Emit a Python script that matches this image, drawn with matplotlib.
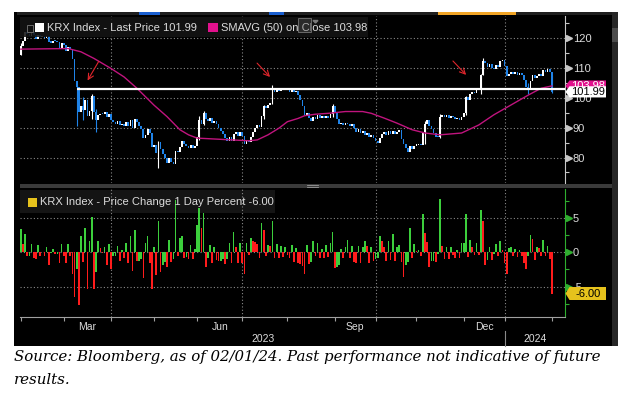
import numpy as np
import matplotlib
matplotlib.use("Agg")
from matplotlib import pyplot as plt
from matplotlib.patches import Rectangle, Polygon
from matplotlib.lines import Line2D
from matplotlib.transforms import blended_transform_factory

W, H, DPI = 627, 393, 100
FONT = "Liberation Sans"
FG = "#dcdcdc"
GRID = "#8a8a8a"
UP = "#ffffff"
DOWN = "#1f83e8"
SMA_C = "#c0147e"
GREEN = "#3ccf3c"
RED = "#ff1c1c"
AXIS_GREEN = "#2fae2f"

# ---- data: KRX Index, daily sessions 2023-02-01 .. 2024-02-01 ----
prior_close = 114.5
close = [
    117.5, 118.9, 122.1, 121.4, 120.7, 122.1, 121.0, 119.8, 121.0, 120.4,  # Feb
    120.5, 119.9, 120.8, 118.6, 118.5, 119.1, 118.9, 118.7, 116.8, 118.2,
    117.6, 115.7, 117.1, 116.5, 112.9, 105.6, 103.6, 95.2, 97.4, 96.0, 99.4,  # Mar
    94.0, 95.6, 100.6, 95.3, 92.6, 94.1, 94.7, 94.6, 95.4, 93.6, 94.7,
    92.4, 91.8, 91.3, 92.1, 90.9, 91.3, 90.6, 91.8, 90.4, 92.5,  # Apr
    90.0, 93.0, 91.8, 90.6, 89.7, 86.4, 87.6, 89.6, 88.3, 83.6,
    84.2, 81.4, 85.1, 82.7, 81.1, 80.0, 78.3, 79.7, 78.6, 77.8,  # May
    82.2, 81.8, 83.5, 85.4, 84.6, 84.0, 83.2, 84.1, 83.3, 83.7,
    87.0, 92.6, 91.2, 95.0, 93.0, 92.2, 93.1, 91.6, 92.2, 91.2, 90.0,  # Jun
    88.9, 88.0, 86.5, 85.6, 86.8, 85.4, 87.9, 88.6, 87.3, 88.4,
    87.1, 84.4, 85.5, 85.2, 87.0, 88.5, 89.8, 90.9, 90.1, 94.0, 97.1,  # Jul
    96.5, 97.5, 98.4, 102.8, 102.0, 103.2, 102.4, 103.3, 102.6, 103.4,
    103.0, 102.1, 103.2, 101.8, 102.4, 100.9, 99.2, 97.2, 94.1, 95.0, 93.4,  # Aug
    92.1, 93.6, 93.0, 94.2, 93.4, 93.9, 93.1, 94.0, 93.3, 94.5, 97.2,
    95.0, 92.9, 91.1, 91.6, 90.8, 91.5, 91.2, 90.5, 91.3, 90.0,  # Sep
    88.6, 89.4, 88.1, 88.8, 87.5, 88.3, 87.0, 87.6, 86.5,
    85.6, 84.9, 86.4, 87.8, 88.5, 87.4, 88.9, 87.9, 89.0, 87.8,  # Oct
    88.4, 89.3, 86.2, 84.6, 83.1, 81.9, 83.7, 83.0, 84.0,
    84.2, 84.5, 84.1, 88.7, 91.2, 92.6, 90.6, 89.4, 88.2, 87.0, 86.8,  # Nov
    93.6, 94.4, 93.5, 94.2, 93.3, 94.0, 93.6, 92.8, 93.2, 92.4, 93.6,
    94.8, 100.1, 99.4, 101.2, 102.0, 101.6, 103.0, 102.6, 107.6, 112.4,  # Dec
    111.6, 110.4, 111.2, 110.0, 109.7, 111.0, 110.4, 112.3, 112.6,
    110.8, 107.3, 107.9, 108.7, 108.0, 108.6, 107.8, 108.2, 107.6, 106.0, 103.5,  # Jan
    103.0, 105.6, 107.7, 106.5, 107.4, 108.0, 107.3, 109.2, 108.6, 109.6, 108.5,
    101.99,  # Feb 1
]

# the longer intraday wicks that stand out: (session index, low, high)
wicks = [(0, 114.5, 118.4), (26, 90.4, 104.6), (29, 92.5, 100.2), (33, 93.0, 101.2),
         (35, 88.7, 96.4), (64, 76.5, 85.6), (83, 86.0, 94.0), (85, 90.8, 95.6),
         (113, 92.8, 97.6), (117, 97.8, 104.2), (145, 93.6, 98.0), (188, 84.5, 92.3),
         (195, 86.5, 94.6), (207, 94.2, 100.6), (214, 101.2, 108.0),
         (215, 107.8, 113.2), (236, 101.4, 104.8), (247, 101.6, 107.6)]

pct_change = [
    3.4, 1.2, 2.7, -0.6, -0.6, 1.2, -0.9, -1.0, 1.0, -0.5,  # Feb
    0.1, -0.5, 0.8, -1.8, -0.1, 0.5, -0.2, -0.2, -1.6, 1.2,
    -0.5, -1.6, 1.2, -0.5, -3.1, -6.5, -2.4, -7.7, 2.3, -1.4, 3.5,  # Mar
    -5.4, 1.7, 5.2, -5.3, -2.8, 1.6, 0.6, -0.1, 0.8, -1.9, 1.2,
    -2.4, -0.6, -0.5, 0.9, -1.3, 0.4, -0.8, 1.3, -1.5, 2.3,  # Apr
    -2.7, 3.3, -1.3, -1.3, -1.0, -3.7, 1.4, 2.3, -1.5, -5.3,
    0.7, -3.3, 4.5, -2.8, -1.9, -1.4, -2.1, 1.8, -1.4, -1.0,  # May
    7.6, -0.5, 2.1, 2.3, -0.9, -0.7, -1.0, 1.1, -1.0, 0.5,
    3.9, 6.4, 3.5, 5.7, -2.1, -0.9, 1.0, -1.6, 0.7, -1.1, -1.3,  # Jun
    -1.2, -1.0, -1.7, -1.0, 1.4, -1.6, 2.9, 0.8, -1.5, 1.3,
    -1.5, -3.1, 1.3, -0.4, 2.1, 1.7, 1.5, 1.2, -0.9, 4.3, 3.3,  # Jul
    -0.6, 1.0, 0.9, 4.5, -0.8, 1.2, -0.8, 0.9, -0.7, 0.8,
    -0.4, -0.9, 1.1, -1.4, 0.6, -1.5, -1.7, -2.0, -3.2, 1.0, -1.7,  # Aug
    -1.4, 1.6, -0.6, 1.3, -0.8, 0.5, -0.9, 1.0, -0.7, 1.3, 2.9,
    -2.3, -2.2, -1.9, 0.5, -0.9, 0.8, 1.8, -0.8, 0.9, -1.4,  # Sep
    -1.6, 0.9, -1.5, 0.8, 1.6, 0.9, -1.5, 0.7, -1.3,
    -1.0, -0.8, 2.3, 1.6, 0.8, -1.2, 1.7, -1.1, 2.6, -1.3,  # Oct
    0.7, 1.0, -1.4, -3.6, -1.8, -1.4, 3.5, -0.8, 1.2,
    0.2, 0.4, -0.5, 5.5, 2.8, 1.5, -2.2, -1.3, -1.3, -1.4, -0.2,  # Nov
    7.8, 0.9, -1.0, 0.7, -1.0, 0.8, -0.4, -0.9, 0.4, -0.9, 1.3,
    1.3, 5.6, -0.7, 1.8, 0.8, -0.4, 1.4, -0.4, 6.1, 4.5,  # Dec
    -1.9, -1.1, 0.7, -1.1, -0.3, 1.2, -0.5, 1.7, 0.3,
    -1.6, -3.2, 0.6, 0.7, -0.6, 0.5, -0.7, 0.4, -0.6, -1.5, -2.4,  # Jan
    -0.5, 2.5, 2.0, -1.1, 0.8, 0.6, -0.6, 1.8, -0.5, 0.9, -1.0,
    -6.0,  # Feb 1
]

# 50-day moving average, read at intervals (session index, value)
sma_idx = [0, 22, 28, 34, 42, 48, 54, 62, 68, 74, 78, 82, 90, 98, 106, 110, 115,
           120, 124, 129, 132, 137, 143, 151, 159, 163, 169, 175, 182, 188, 195,
           205, 213, 220, 228, 236, 242, 247]
sma_val = [116.3, 116.5, 115.4, 113.2, 109.8, 107.0, 103.2, 97.5, 93.7, 89.3, 87.6,
           86.5, 86.2, 85.9, 85.6, 85.9, 87.6, 89.8, 92.0, 93.1, 94.0, 94.5, 94.8,
           95.4, 95.4, 94.8, 93.2, 91.5, 89.3, 88.2, 87.6, 88.2, 90.9, 94.3, 97.6,
           100.9, 103.2, 103.98]

last_price = 101.99
last_sma = 103.98
last_pct = -6.00
support_level = 103.05
support_start = 26

# first session of each month, Feb 2023 .. Feb 2024
month_starts = [0, 20, 42, 62, 82, 103, 124, 146, 165, 184, 206, 225, 247]
quarter_starts = [42, 103, 165, 225]
month_names = {1: "Mar", 4: "Jun", 7: "Sep", 10: "Dec"}
years = [("2023", 0, 225), ("2024", 225, 253)]

# hand-drawn red arrows: (tail idx, tail value, tip idx, tip value)
arrows = [(36.9, 113.0, 30.4, 105.0), (109.0, 112.3, 116.8, 106.3),
          (200.1, 113.0, 208.0, 107.0)]

price_ticks = [80, 90, 100, 110, 120]
price_minor = [75, 85, 95, 105, 115, 125]
pct_ticks = [-5, 0, 5]
pct_minor = [-7.5, -2.5, 2.5, 7.5]


def fx(x):
    return x / W


def fy(y):
    return 1 - y / H


def box(x0, y0, x1, y1, **kw):
    fig.patches.append(Rectangle((fx(x0), fy(y1)), (x1 - x0) / W, (y1 - y0) / H,
                                 transform=fig.transFigure, **kw))


fig = plt.figure(figsize=(W / DPI, H / DPI), dpi=DPI, facecolor="white")
box(14, 12, 612, 346, facecolor="black", edgecolor="none", zorder=-3)
box(612, 12, 618, 346, facecolor="#272727", edgecolor="none", zorder=-3)
box(612, 28, 618, 42, facecolor="#4c4c4c", edgecolor="none", zorder=-2)

# event strip at the top
box(17, 12, 612, 15, facecolor="#1f1f1f", edgecolor="none", zorder=-2)
box(139, 12, 160, 14.5, facecolor="#1a5fd0", edgecolor="none", zorder=-1)
box(269, 12, 284, 14.5, facecolor="#1a5fd0", edgecolor="none", zorder=-1)
box(438, 12, 516, 14.5, facecolor="#f2a526", edgecolor="none", zorder=-1)

# lower legend sits behind the bars
box(20, 190, 275, 213, facecolor="#141414", edgecolor="none", zorder=-1)

ax_p = fig.add_axes([fx(20), fy(183), 545 / W, 167 / H])
ax_c = fig.add_axes([fx(20), fy(317), 545 / W, 128 / H])

x = np.arange(len(close))
close_a = np.array(close)
open_a = np.concatenate([[prior_close], close_a[:-1]])
pct_a = np.array(pct_change)

for ax in (ax_p, ax_c):
    ax.set_zorder(1)
    ax.set_facecolor("none")
    ax.set_xlim(-0.37, 253.1)
    for s in ("top", "left", "bottom"):
        ax.spines[s].set_visible(False)
    ax.set_xticks([])
    ax.yaxis.tick_right()
    for q in quarter_starts:
        ax.axvline(q, color=GRID, lw=0.8, ls=(0, (1, 2)), zorder=1)

ax_p.set_ylim(71.46, 127.4)
ax_c.set_ylim(-9.42, 9.21)

for v in price_ticks:
    ax_p.axhline(v, color=GRID, lw=0.8, ls=(0, (1, 2)), zorder=1)
for v in pct_ticks:
    ax_c.axhline(v, color=GRID, lw=0.8, ls=(0, (1, 2)), zorder=1)

# candles
up = close_a >= open_a
lo = np.minimum(open_a, close_a)
hgt = np.maximum(np.abs(close_a - open_a), 0.4)
body_col = np.where(up, UP, DOWN)
for i, wl, wh in wicks:
    ax_p.vlines(i, wl, wh, color=body_col[i], lw=0.8, zorder=3)
ax_p.bar(x, hgt, bottom=lo, width=0.8, color=body_col, linewidth=0, zorder=3)
ax_p.plot(sma_idx, sma_val, color=SMA_C, lw=1.0, zorder=4)
ax_p.plot([support_start, 253.1], [support_level] * 2, color="white", lw=1.6,
          zorder=5, solid_capstyle="butt")
for tx, tv, hx, hv in arrows:
    ax_p.annotate("", xy=(hx, hv), xytext=(tx, tv),
                  arrowprops=dict(arrowstyle="->", color="#e0262c", lw=0.8,
                                  mutation_scale=10), zorder=6)

# daily change histogram, coloured vs the previous bar
prev = np.concatenate([[-np.inf], pct_a[:-1]])
ax_c.bar(x, pct_a, width=0.78, color=np.where(pct_a >= prev, GREEN, RED),
         linewidth=0, zorder=3)

# right axes
ax_p.spines["right"].set_color("#c8c8c8")
ax_c.spines["right"].set_color(AXIS_GREEN)
for ax, ticks, minor, col in ((ax_p, price_ticks, price_minor, "#c8c8c8"),
                              (ax_c, pct_ticks, pct_minor, AXIS_GREEN)):
    ax.set_yticks(ticks)
    ax.set_yticklabels([str(t) for t in ticks])
    ax.set_yticks(minor, minor=True)
    ax.tick_params(axis="y", which="major", length=0, pad=5.5, labelsize=8,
                   labelcolor=FG)
    for lab in ax.get_yticklabels():
        lab.set_fontfamily(FONT)
    ax.tick_params(axis="y", which="minor", length=3, width=0.8, color=col)
    tr = blended_transform_factory(ax.transAxes, ax.transData)
    ax.plot([1 + 4 / 545] * len(ticks), ticks, ls="none", marker=">",
            markersize=4, color=col, transform=tr, clip_on=False, zorder=5)

# bottom time axis
ax_c.spines["bottom"].set_visible(True)
ax_c.spines["bottom"].set_color("#a0a0a0")
ax_c.set_xticks(month_starts)
ax_c.set_xticklabels([])
ax_c.tick_params(axis="x", length=3, width=0.8, color="#a0a0a0")
trx = blended_transform_factory(ax_c.transData, fig.transFigure)
for i, name in month_names.items():
    mid = (month_starts[i] + month_starts[i + 1]) / 2
    fig.text(mid, fy(327), name, transform=trx, ha="center", va="center",
             color=FG, fontsize=7.5, family=FONT)
for name, a, b in years:
    fig.text((a + b) / 2, fy(339.5), name, transform=trx, ha="center",
             va="center", color=FG, fontsize=7.5, family=FONT)
fig.lines.append(Line2D([years[1][1]] * 2, [fy(331), fy(346)], transform=trx,
                        color="#8a8a8a", lw=0.8))

# separator between panels
box(20, 184, 612, 188, facecolor="#3a3a3a", edgecolor="none", zorder=2)
fig.lines.append(Line2D([fx(307), fx(318)], [fy(185.3)] * 2,
                        transform=fig.transFigure, color="#9a9a9a", lw=0.6, zorder=3))
fig.lines.append(Line2D([fx(307), fx(318)], [fy(186.8)] * 2,
                        transform=fig.transFigure, color="#9a9a9a", lw=0.6, zorder=3))

# legends
box(20, 17, 368, 37, facecolor="#141414", edgecolor="none", alpha=0.88, zorder=7)
box(26.5, 24.5, 32.5, 31.5, facecolor="none", edgecolor="#6a6a6a", lw=0.7, zorder=8)
box(35, 23, 44, 32, facecolor="white", edgecolor="none", zorder=8)
fig.text(fx(47), fy(27.8), f"KRX Index - Last Price {last_price:.2f}", color=FG,
         fontsize=8, family=FONT, va="center", zorder=9)
box(208, 23, 218, 32, facecolor="#e2118d", edgecolor="none", zorder=8)
fig.text(fx(221), fy(27.8), f"SMAVG (50) on Close {last_sma:.2f}", color=FG,
         fontsize=8, family=FONT, va="center", zorder=9)
box(297.5, 18, 310.5, 32, facecolor=(0.35, 0.35, 0.35, 0.35),
    edgecolor="#6a6a6a", lw=0.7, zorder=10)
fig.patches.append(Polygon([(fx(313), fy(20.5)), (fx(318), fy(20.5)),
                            (fx(315.5), fy(23))], closed=True,
                           transform=fig.transFigure, color="#7a7a7a", zorder=10))

box(28, 198, 37, 207, facecolor="#e6c21c", edgecolor="none", zorder=8)
fig.text(fx(40), fy(202.3), f"KRX Index - Price Change 1 Day Percent {last_pct:.2f}",
         color=FG, fontsize=8, family=FONT, va="center", zorder=9)


def tag(ax, value, text, face, tcolor, half):
    yc = H - ax.transData.transform((0, value))[1]
    pts = [(565.5, yc), (569.5, yc - half), (606, yc - half), (606, yc + half),
           (569.5, yc + half)]
    fig.patches.append(Polygon([(fx(a), fy(b)) for a, b in pts], closed=True,
                               transform=fig.transFigure, facecolor=face,
                               edgecolor="none", zorder=10))
    fig.text(fx(588), fy(yc + 0.3), text, color=tcolor, fontsize=8, family=FONT,
             ha="center", va="center", zorder=11)


tag(ax_p, last_sma, f"{last_sma:.2f}", "#e2118d", "white", 5.5)
tag(ax_p, last_price, f"{last_price:.2f}", "white", "black", 5.6)
tag(ax_c, last_pct, f"{last_pct:.2f}", "#e6c21c", "black", 6.5)

# source note, sized so the first line spans the chart width
src1 = fig.text(fx(14), fy(357), "Source: Bloomberg, as of 02/01/24. Past "
                "performance not indicative of future", fontsize=10,
                family="DejaVu Serif", style="italic", color="black", va="center")
src2 = fig.text(fx(14), fy(379.5), "results.", fontsize=10, family="DejaVu Serif",
                style="italic", color="black", va="center")
fig.canvas.draw()
fs = 10 * 586 / src1.get_window_extent().width
src1.set_fontsize(fs)
src2.set_fontsize(fs)

fig.savefig("out.png", dpi=DPI, facecolor="white")
